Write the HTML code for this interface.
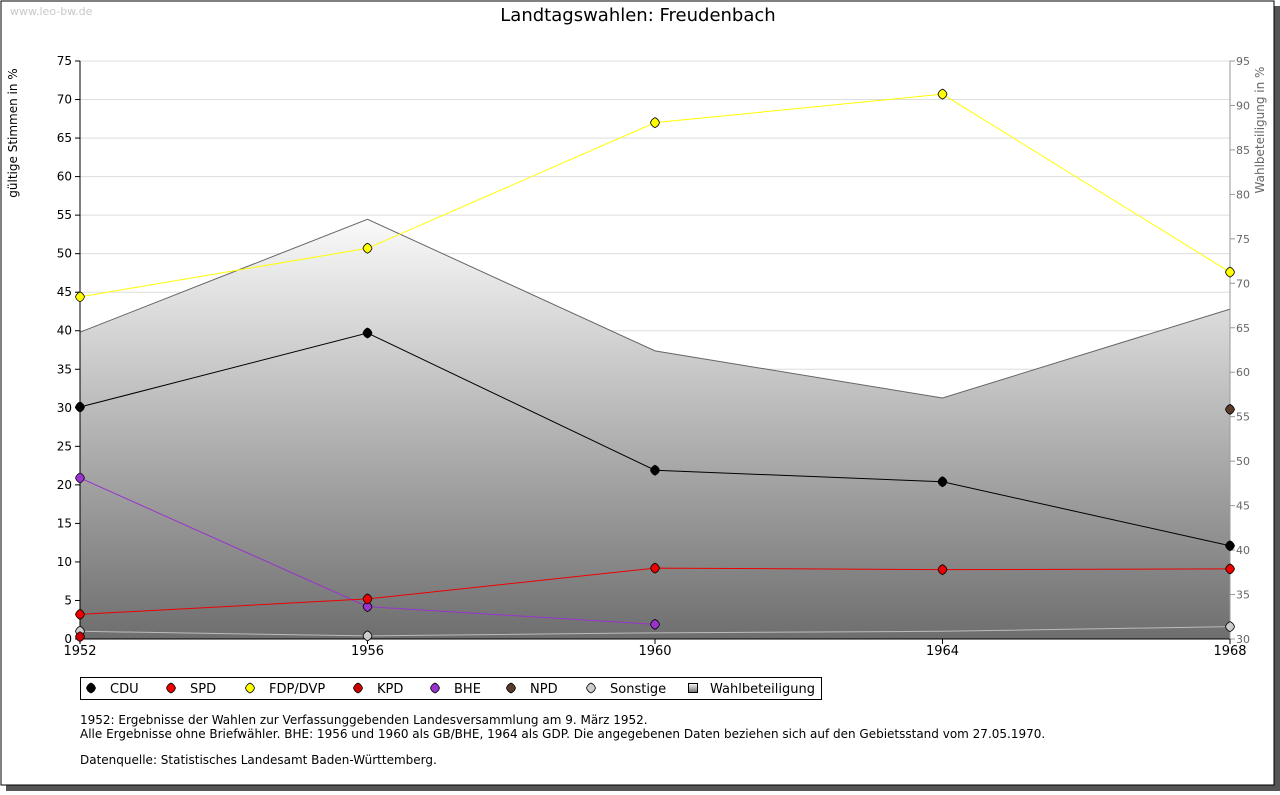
<!DOCTYPE html>
<html><head><meta charset="utf-8"><style>
body{margin:0;background:#fff;width:1280px;height:791px;overflow:hidden;font-family:"DejaVu Sans","Liberation Sans",sans-serif}
svg text{font-family:"DejaVu Sans","Liberation Sans",sans-serif}
</style></head><body>
<svg id="c" width="1280" height="791">
<defs><linearGradient id="g" x1="0" y1="0" x2="0" y2="1"><stop offset="0" stop-color="#fafafa"/><stop offset="1" stop-color="#6e6e6e"/></linearGradient></defs>
<rect x="6" y="6" width="1274" height="785" fill="#555"/>
<rect x="1" y="1" width="1273" height="784" fill="#fff" stroke="#000" stroke-width="1"/>
<text x="10" y="15" font-size="11" fill="#c8c8c8">www.leo-bw.de</text>
<text x="638" y="21" font-size="18" text-anchor="middle">Landtagswahlen: Freudenbach</text>
<text transform="translate(17,133) rotate(-90)" font-size="12" text-anchor="middle">gültige Stimmen in %</text>
<text transform="translate(1264,130) rotate(-90)" font-size="12" fill="#666" text-anchor="middle">Wahlbeteiligung in %</text>
<g id="plot"></g>
<rect x="80.5" y="677.5" width="741" height="22" fill="#fff" stroke="#000"/>
<g id="leg"></g>
<text x="80" y="724" font-size="12">1952: Ergebnisse der Wahlen zur Verfassunggebenden Landesversammlung am 9. März 1952.</text>
<text x="80" y="738" font-size="12">Alle Ergebnisse ohne Briefwähler. BHE: 1956 und 1960 als GB/BHE, 1964 als GDP. Die angegebenen Daten beziehen sich auf den Gebietsstand vom 27.05.1970.</text>
<text x="80" y="764" font-size="12">Datenquelle: Statistisches Landesamt Baden-Württemberg.</text>
</svg>
<script>
const years=[1952,1956,1960,1964,1968];
const turnout=[64.5,77.2,62.4,57.1,67.1];
const cdu=[30.1,39.7,21.9,20.4,12.1];
const spd=[3.2,5.2,9.2,9.0,9.1];
const fdp=[44.4,50.7,67.0,70.7,47.6];
const kpd=[0.3,null,null,null,null];
const bhe=[20.9,4.2,1.9,null,null];
const npd=[null,null,null,null,29.8];
const sonst=[1.0,0.4,0.8,1.0,1.6];
const sonstMarked=[true,true,false,false,true];
const leftTicks=[0,5,10,15,20,25,30,35,40,45,50,55,60,65,70,75];
const rightTicks=[30,35,40,45,50,55,60,65,70,75,80,85,90,95];
const NS='http://www.w3.org/2000/svg';
const X0=80,X1=1230,Y0=639,Y1=61;
const xs=i=>X0+(years[i]-1952)/(1968-1952)*(X1-X0);
const yl=v=>Y0-v/75*(Y0-Y1);
const yr=v=>Y0-(v-30)/65*(Y0-Y1);
const P=document.getElementById('plot');
function el(t,a,p){const e=document.createElementNS(NS,t);for(const k in a)e.setAttribute(k,a[k]);(p||P).appendChild(e);return e;}
function mk(x,y,c,p){return el('path',{d:`M${x},${y-5} Q${x+3.5},${y-3.5} ${x+4.5},${y} Q${x+3.5},${y+3.5} ${x},${y+5} Q${x-3.5},${y+3.5} ${x-4.5},${y} Q${x-3.5},${y-3.5} ${x},${y-5} Z`,fill:c,stroke:'#000','stroke-width':0.8},p);}
leftTicks.forEach(v=>{const y=yl(v);
 if(v>0){const l=el('line',{x1:X0,x2:X1,y1:y,y2:y,stroke:'#ddd'});}
 el('line',{x1:X0-5,x2:X0,y1:y,y2:y,stroke:'#000'});
 const t=el('text',{x:X0-8,y:y+4,'font-size':12,'text-anchor':'end'});t.textContent=v;
 });
let area='M'+xs(0)+','+Y0;turnout.forEach((v,i)=>area+=' L'+xs(i)+','+yr(v));area+=' L'+xs(4)+','+Y0+' Z';
const a=el('path',{d:area,fill:'url(#g)'});
const tl=el('polyline',{points:turnout.map((v,i)=>xs(i)+','+yr(v)).join(' '),fill:'none',stroke:'#666'});

el('line',{x1:X0,x2:X0,y1:Y1,y2:Y0,stroke:'#000'});
el('line',{x1:X0,x2:X1,y1:Y0,y2:Y0,stroke:'#000'});
el('line',{x1:X1,x2:X1,y1:Y1,y2:Y0,stroke:'#999'});
rightTicks.forEach(v=>{const y=yr(v);el('line',{x1:X1,x2:X1+5,y1:y,y2:y,stroke:'#999'});
 const t=el('text',{x:X1+6,y:y+4,'font-size':11,fill:'#666'});t.textContent=v;
 });
years.forEach((yv,i)=>{el('line',{x1:xs(i),x2:xs(i),y1:Y0,y2:Y0+5,stroke:'#000'});
 const t=el('text',{x:xs(i),y:Y0+16,'font-size':13,'text-anchor':'middle'});t.textContent=yv;
 });
const series=[['sonstige',sonst,'#ccc','#bbb'],['kpd',kpd,'#c00','#c00'],['bhe',bhe,'#9933cc','#9933cc'],['spd',spd,'#e00','#e00'],['npd',npd,'#5a3a2a','#5a3a2a'],['cdu',cdu,'#000','#000'],['fdp',fdp,'#ff0','#ff0']];
series.forEach(([n,d,fc,lc])=>{const pts=[];d.forEach((v,i)=>{if(v!=null)pts.push(xs(i)+','+yl(v));});
 const pl=el('polyline',{points:pts.join(' '),fill:'none',stroke:lc});
 
 d.forEach((v,i)=>{if(v==null)return;if(n==='sonstige'&&!sonstMarked[i])return;
  const m=mk(xs(i),yl(v),fc);
  });});
const L=document.getElementById('leg');
const legItems=[['CDU','#000',91],['SPD','#e00',171],['FDP/DVP','#ff0',250],['KPD','#c00',358],['BHE','#9933cc',435],['NPD','#5a3a2a',511],['Sonstige','#ccc',591]];
legItems.forEach(([n,c,x])=>{const m=mk(x,688,c,L);
 
 const t=el('text',{x:x+19,y:693,'font-size':13},L);t.textContent=n;
 });
const sq=el('rect',{x:688.5,y:683.5,width:9,height:9,fill:'url(#g)',stroke:'#000'},L);

const wt=el('text',{x:710,y:693,'font-size':13},L);wt.textContent='Wahlbeteiligung';

</script>
</body></html>
